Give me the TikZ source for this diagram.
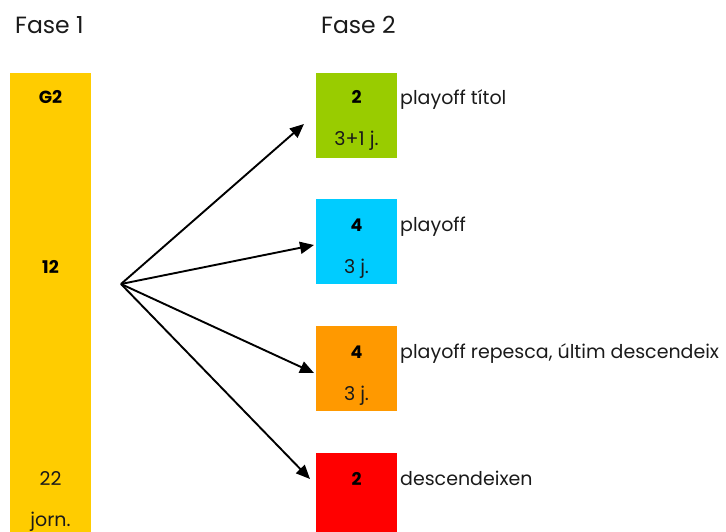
\documentclass[tikz,border=0pt]{standalone}
\usepackage{fontspec}
\setmainfont{Poppins}
\usetikzlibrary{arrows.meta}
\definecolor{cyel}{HTML}{FFCC00}
\definecolor{cgrn}{HTML}{99CC00}
\definecolor{cblu}{HTML}{00CCFF}
\definecolor{cora}{HTML}{FF9900}
\definecolor{cred}{HTML}{FF0000}
\definecolor{ctxt}{HTML}{1A1A1A}
\begin{document}
\begin{tikzpicture}[x=1pt,y=-1pt,
  box/.style={anchor=north west, minimum width=81pt, minimum height=85pt, inner sep=0pt, outer sep=0pt},
  num/.style={anchor=base, inner sep=0pt, text=black, font=\fontsize{17.5}{20}\selectfont\bfseries},
  sub/.style={anchor=base, inner sep=0pt, text=ctxt, font=\fontsize{19}{22}\selectfont},
  lbl/.style={anchor=base west, inner sep=0pt, text=ctxt, font=\fontsize{19}{22}\selectfont},
  hdr/.style={anchor=base west, inner sep=0pt, text=ctxt, font=\fontsize{23.5}{28}\selectfont},
  arr/.style={-{Triangle[length=14pt,width=12pt]}, line width=1.9pt}]
\useasboundingbox (0,0) rectangle (726,532);
% headers
\node[hdr] (h1) at (15,34) {Fase 1};
\node[hdr] (h2) at (321,34) {Fase 2};
% phase 1 bar
\node[box, fill=cyel, minimum height=459pt] (f1) at (10,73) {};
\node[num] (g2) at (50.5,104) {G2};
\node[num] (n12) at (50.5,273) {12};
\node[sub] (n22) at (50.5,485) {22};
\node[sub] (jorn) at (50.5,526) {jorn.};
% phase 2 boxes
\node[box, fill=cgrn] (b1) at (316,73) {};
\node[box, fill=cblu] (b2) at (316,199) {};
\node[box, fill=cora] (b3) at (316,326) {};
\node[box, fill=cred, minimum height=79pt] (b4) at (316,453) {};
\node[num] (b1n) at (356.5,104) {2};
\node[sub] (b1s) at (356.5,146) {3+1 j.};
\node[num] (b2n) at (356.5,231) {4};
\node[sub] (b2s) at (356.5,273) {3 j.};
\node[num] (b3n) at (356.5,358) {4};
\node[sub] (b3s) at (356.5,400) {3 j.};
\node[num] (b4n) at (356.5,485) {2};
% labels
\node[lbl] (l1) at (400,105) {playoff títol};
\node[lbl] (l2) at (400,231) {playoff};
\node[lbl] (l3) at (400,358) {playoff repesca, últim descendeix};
\node[lbl] (l4) at (400,485) {descendeixen};
% arrows
\coordinate (o) at (121,284);
\coordinate (e1) at (304,124);
\coordinate (e2) at (314,245);
\coordinate (e3) at (314,373);
\coordinate (e4) at (310,479);
\draw[arr] (o) -- (e1);
\draw[arr] (o) -- (e2);
\draw[arr] (o) -- (e3);
\draw[arr] (o) -- (e4);
\end{tikzpicture}
\end{document}
